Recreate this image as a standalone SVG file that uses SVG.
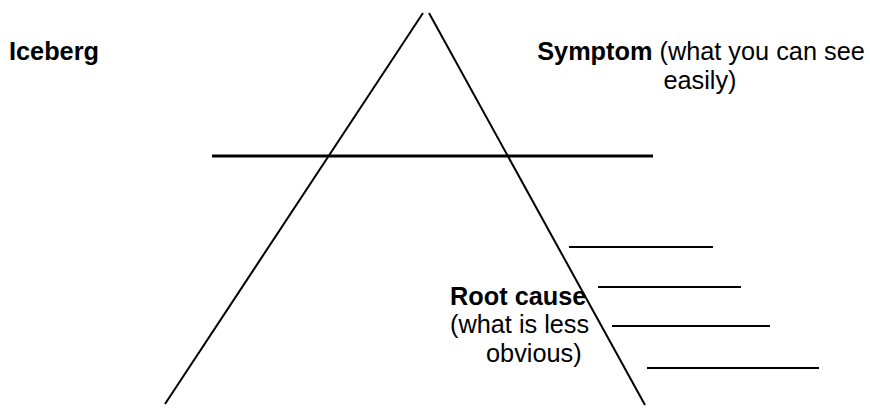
<svg xmlns="http://www.w3.org/2000/svg" width="870" height="408" viewBox="0 0 870 408">
<style>
.t{font-family:"Liberation Sans",Arial,sans-serif;font-size:25.3px;fill:#000}
.b{font-weight:bold}
.ln{stroke:#000;stroke-width:2;fill:none;stroke-linecap:butt}
.wl{stroke:#000;stroke-width:3.2;fill:none}
</style>
<rect width="870" height="408" fill="#fff"/>
<g id="connectors">
<line class="ln" x1="423" y1="13" x2="165" y2="404"/>
<line class="ln" x1="429" y1="13" x2="645" y2="405"/>
<line class="wl" x1="212" y1="156" x2="653" y2="156"/>
<line class="ln" x1="569" y1="247" x2="713" y2="247"/>
<line class="ln" x1="598" y1="287" x2="741" y2="287"/>
<line class="ln" x1="612" y1="326" x2="770" y2="326"/>
<line class="ln" x1="647" y1="368" x2="819" y2="368"/>
</g>
<g id="iceberg">
<text class="t b" x="9" y="60">Iceberg</text>
</g>
<g id="symptom">
<text class="t" x="701" y="60" text-anchor="middle"><tspan class="b">Symptom</tspan> (what you can see</text>
<text class="t" x="700" y="89" text-anchor="middle">easily)</text>
</g>
<g id="root-cause">
<text class="t b" x="450" y="305">Root cause</text>
<text class="t" x="450" y="333">(what is less</text>
<text class="t" x="486" y="362">obvious)</text>
</g>
</svg>
